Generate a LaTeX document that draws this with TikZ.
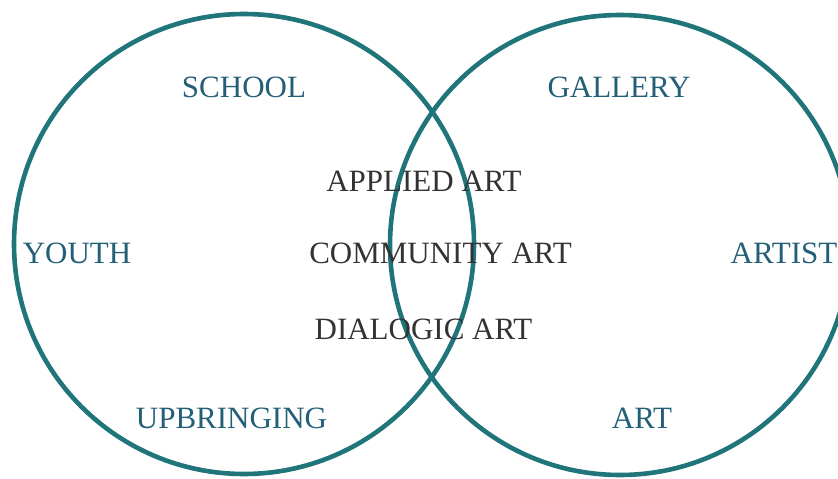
\documentclass[tikz,border=0pt]{standalone}
\usepackage{fontspec}
\setmainfont{Liberation Serif}
\definecolor{ring}{HTML}{1F7579}
\definecolor{outer}{HTML}{245F78}
\definecolor{inner}{HTML}{333333}
\tikzset{
  ringline/.style={draw=ring, line width=4.6pt},
  outerlbl/.style={anchor=base, inner sep=0pt, text=outer, font=\fontsize{31}{31}\selectfont},
  innerlbl/.style={anchor=base, inner sep=0pt, text=inner, font=\fontsize{31}{31}\selectfont}
}
\begin{document}
\begin{tikzpicture}[x=1pt,y=-1pt]
\useasboundingbox (0,0) rectangle (838,479);
\fill[white] (0,0) rectangle (838,479);
\node[ringline, circle, minimum size=460pt, inner sep=0pt] (leftc) at (244,244) {};
\node[ringline, circle, minimum size=460pt, inner sep=0pt] (rightc) at (620,245) {};
\node[outerlbl] (school) at (244,97) {SCHOOL};
\node[outerlbl] (gallery) at (619,97) {GALLERY};
\node[outerlbl] (youth) at (77,263) {YOUTH};
\node[outerlbl] (artist) at (784,263) {ARTIST};
\node[outerlbl] (upbringing) at (231.5,428) {UPBRINGING};
\node[outerlbl] (art) at (642,428) {ART};
\node[innerlbl] (applied) at (424,191) {APPLIED ART};
\node[innerlbl] (community) at (440.5,263) {COMMUNITY ART};
\node[innerlbl] (dialogic) at (423.5,339) {DIALOGIC ART};
\end{tikzpicture}
\end{document}
